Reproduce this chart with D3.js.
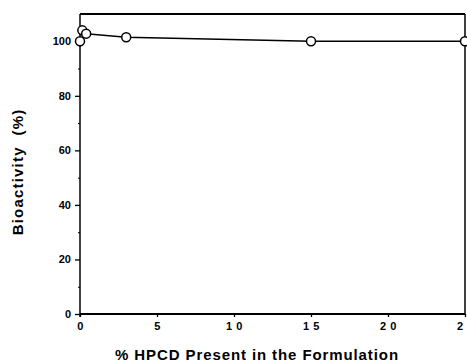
<!DOCTYPE html>
<html><head><meta charset="utf-8">
<script src="https://cdn.jsdelivr.net/npm/d3@7"></script>
<style>body{margin:0;background:#fff}svg{display:block}text{font-family:"Liberation Sans",Arial,sans-serif;font-weight:bold;fill:#000}</style>
</head><body>
<script>
const xValues = [0, 0.15, 0.4, 3, 15, 25];
const yValues = [100, 104, 102.8, 101.5, 100, 100];
const xTicks = [0, 5, 10, 15, 20, 25];
const xTickLabels = ["0", "5", "1 0", "1 5", "2 0", "2 5"];
const yTicks = [0, 20, 40, 60, 80, 100];
const yMinorTicks = [10, 30, 50, 70, 90];

const W = 467, H = 364;
const svg = d3.select("body").append("svg").attr("width", W).attr("height", H);
const x = d3.scaleLinear().domain([0, 25]).range([80, 465]);
const y = d3.scaleLinear().domain([0, 110]).range([314, 14]);

// frame
svg.append("line").attr("x1", x(0)).attr("x2", x(25)).attr("y1", y(110)).attr("y2", y(110)).attr("stroke", "#000").attr("stroke-width", 1.8);
svg.append("line").attr("x1", x(25)).attr("x2", x(25)).attr("y1", y(110)).attr("y2", y(0)).attr("stroke", "#000").attr("stroke-width", 1.5);

const yAxis = d3.axisLeft(y).tickValues(yTicks).tickSize(5).tickPadding(4).tickFormat(d3.format("d"));
const gy = svg.append("g").attr("transform", `translate(${x(0)},0)`).call(yAxis);
gy.select(".domain").attr("stroke-width", 1.5).attr("d", `M0,${y(110)}V${y(0)+3}`);
gy.selectAll(".tick line").attr("stroke-width", 1.3);
gy.selectAll("text").style("font-size", "11px").style("font-family", '"Liberation Sans",Arial,sans-serif').style("font-weight", "bold");
const gym = svg.append("g").attr("transform", `translate(${x(0)},0)`)
  .call(d3.axisLeft(y).tickValues(yMinorTicks).tickSize(2).tickFormat(""));
gym.select(".domain").remove();

const xAxis = d3.axisBottom(x).tickValues(xTicks).tickSize(3).tickPadding(5).tickFormat((d, i) => xTickLabels[i]);
const gx = svg.append("g").attr("transform", `translate(0,${y(0)})`).call(xAxis);
gx.select(".domain").attr("stroke-width", 1.8).attr("d", `M${x(0)},0H${x(25)}`);
gx.selectAll(".tick line").attr("stroke-width", 1.3);
gx.selectAll("text").style("font-size", "11px").style("font-family", '"Liberation Sans",Arial,sans-serif').style("font-weight", "bold")
  .style("letter-spacing", "0.5px").attr("xml:space", "preserve");

const pts = xValues.map((v, i) => [v, yValues[i]]);
svg.append("path").datum(pts.slice(2)).attr("fill", "none").attr("stroke", "#000").attr("stroke-width", 1.5)
  .attr("d", d3.line().x(d => x(d[0])).y(d => y(d[1])));
svg.selectAll("circle.pt").data(pts).join("circle").attr("class", "pt")
  .attr("cx", d => x(d[0])).attr("cy", d => y(d[1])).attr("r", 4.5)
  .attr("fill", "#fff").attr("stroke", "#000").attr("stroke-width", 1.5);

svg.append("text").attr("x", 257).attr("y", 360).attr("text-anchor", "middle").style("font-size", "15px")
  .style("letter-spacing", "0.9px").text("% HPCD Present in the Formulation");
svg.append("text").attr("transform", "translate(23,172) rotate(-90)").attr("text-anchor", "middle").style("font-size", "15px")
  .style("letter-spacing", "1.2px").attr("xml:space", "preserve").text("Bioactivity  (%)");
</script>
</body></html>
